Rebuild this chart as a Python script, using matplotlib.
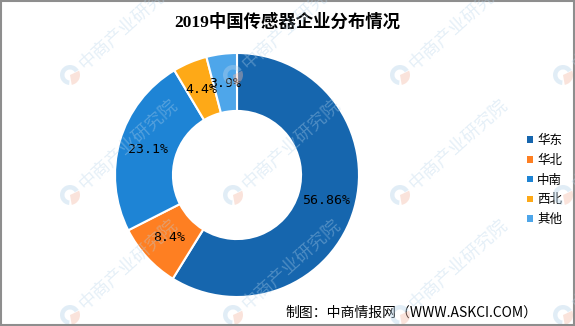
import numpy as np
import matplotlib
matplotlib.use("Agg")
import matplotlib.pyplot as plt
from matplotlib.patches import Patch, Wedge, Rectangle

# 2019 sensor company distribution by region
regions = ["华东", "华北", "中南", "西北", "其他"]
shares = [56.86, 8.4, 23.1, 4.4, 3.9]
share_labels = ["56.86%", "8.4%", "23.1%", "4.4%", "3.9%"]
colors = ["#1666AE", "#FE7F22", "#1E84D5", "#FEA917", "#4EA6EA"]

title = "2019中国传感器企业分布情况"
source = "制图：中商情报网（WWW.ASKCI.COM）"
mark_text = "中商产业研究院"

W, H = 575, 326
fig = plt.figure(figsize=(W / 100, H / 100), dpi=100)
fig.patch.set_facecolor("white")

# donut: centre (237,175), outer radius 122 px
cx, cy, r = 237, 175, 122
ax = fig.add_axes([(cx - r) / W, (H - cy - r) / H, 2 * r / W, 2 * r / H])
wedges, _ = ax.pie(shares, colors=colors, startangle=90, counterclock=False,
                   radius=1.0, wedgeprops=dict(width=0.475, edgecolor="white", linewidth=1.5))
ax.set_xlim(-1, 1)
ax.set_ylim(-1, 1)
ax.set_aspect("equal")

for w, lab in zip(wedges, share_labels):
    mid = np.deg2rad((w.theta1 + w.theta2) / 2)
    ax.text(0.76 * np.cos(mid), 0.76 * np.sin(mid), lab, ha="center", va="center",
            fontsize=9.5, family="DejaVu Sans Mono", color="black")

cjk = ["Noto Sans CJK SC", "DejaVu Sans"]
fig.text(287 / W, 1 - 22 / H, title, ha="center", va="center", fontsize=12.5,
         fontweight="bold", family=["Liberation Serif", "Noto Sans CJK SC"])
fig.text(537 / W, 1 - 313 / H, source, ha="right", va="center", fontsize=10, family=cjk)

handles = [Patch(facecolor=c, edgecolor="none") for c in colors]
fig.legend(handles, regions, loc="center left", bbox_to_anchor=(527 / W, 1 - 180 / H),
           frameon=False, prop={"family": cjk, "size": 9}, handlelength=0.45,
           handleheight=0.45, handletextpad=0.35, labelspacing=0.55, borderpad=0,
           borderaxespad=0)

# overlay in pixel coordinates for the watermark and frame
ov = fig.add_axes([0, 0, 1, 1], zorder=10)
ov.set_xlim(0, W)
ov.set_ylim(H, 0)
ov.axis("off")
ov.patch.set_alpha(0)

for lx in [70, 233, 400, 563]:
    for ly in [75, 195, 315]:
        ov.add_patch(Wedge((lx, ly), 10, 95, 330, width=4.5, facecolor="#b5d3ea",
                           edgecolor="none", alpha=0.4))
        ov.add_patch(Wedge((lx, ly), 10, -25, 80, facecolor="#f4b9a6",
                           edgecolor="none", alpha=0.4))
        ov.text(lx + 12, ly - 8, mark_text, rotation=42, rotation_mode="anchor",
                ha="left", va="center", fontsize=13, color="#b5d3ea", alpha=0.35,
                family=cjk, clip_on=True)

ov.add_patch(Rectangle((0.75, 0.75), W - 1.5, H - 1.5, fill=False,
                       edgecolor="#8e8e8e", linewidth=1.5))

fig.savefig("out.png", dpi=100, facecolor="white")
